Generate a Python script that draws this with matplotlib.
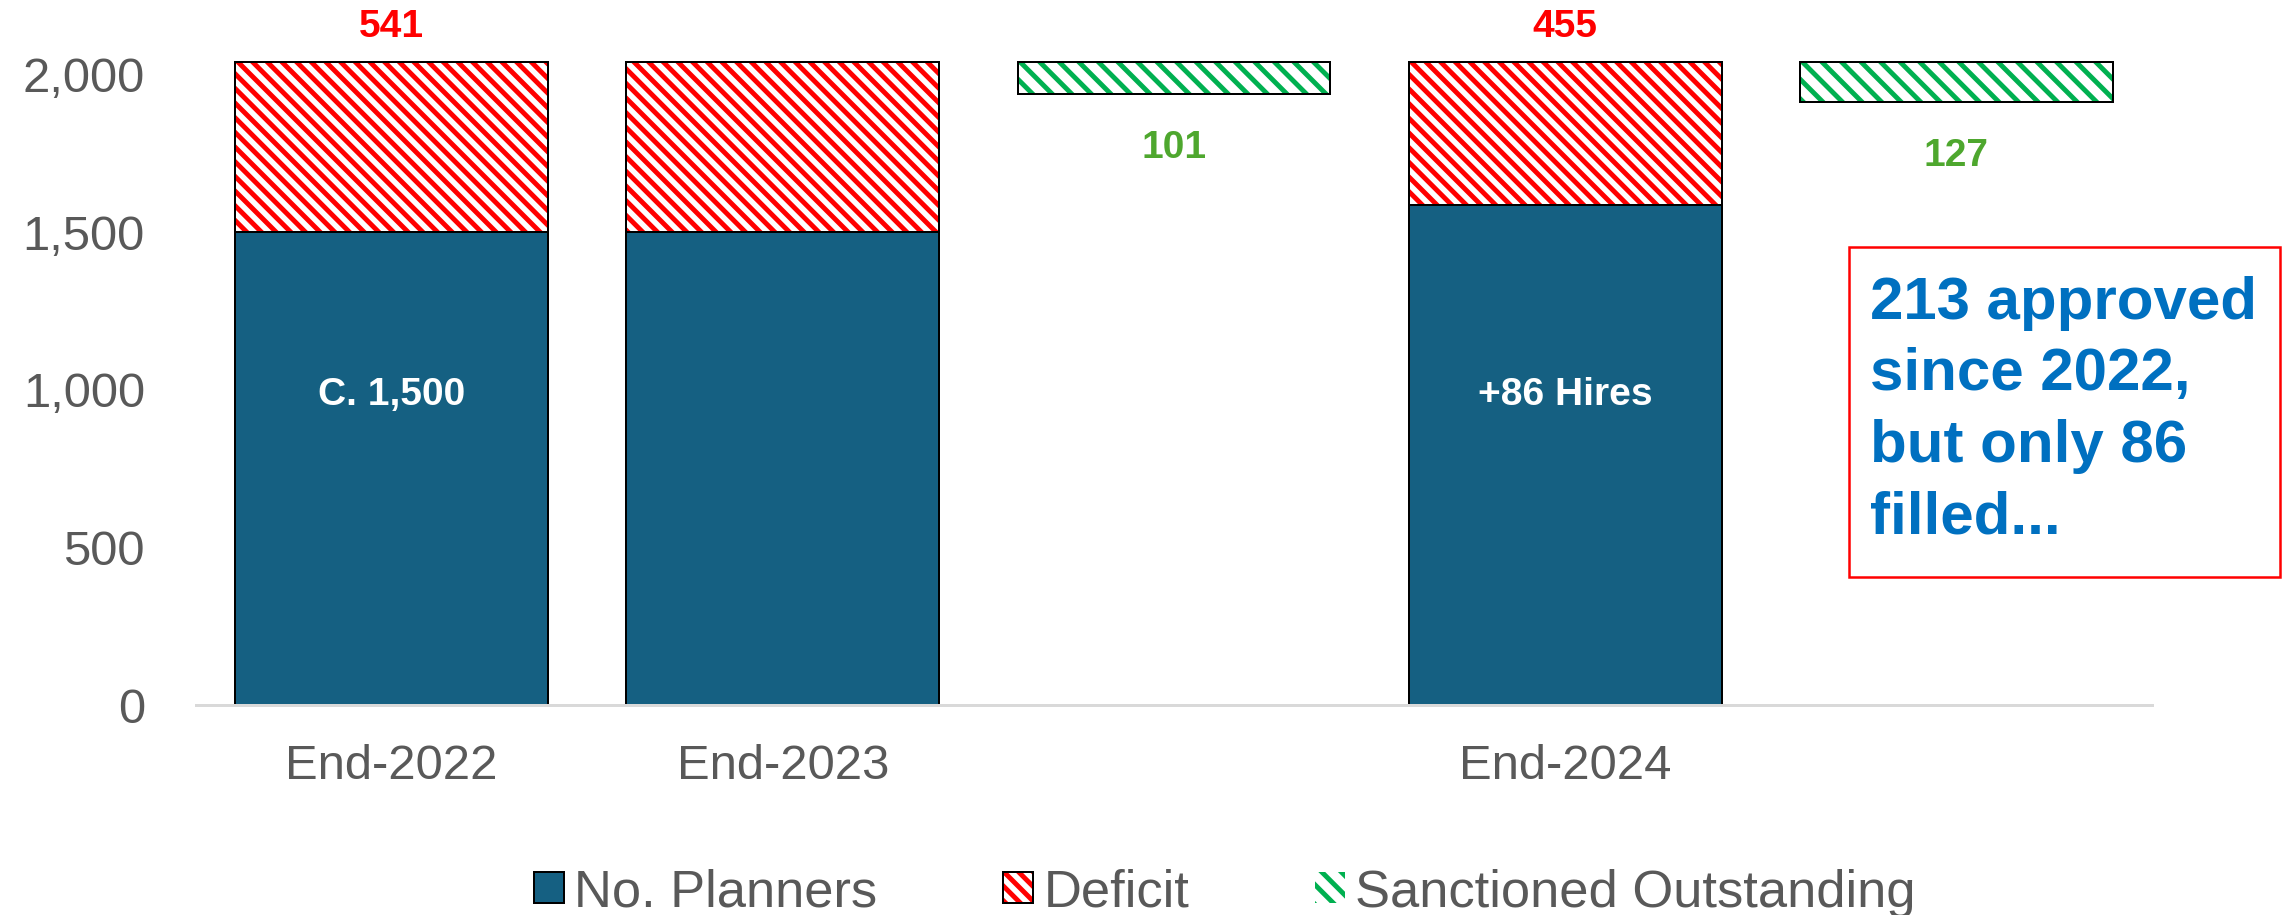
import matplotlib
matplotlib.use('Agg')
import matplotlib.pyplot as plt
from matplotlib.patches import Patch, Rectangle
from matplotlib.ticker import FuncFormatter

# data
categories = ['End-2022', 'End-2023', '', 'End-2024', '']
planners = [1500, 1500, 0, 1586, 0]
deficit = [541, 541, 0, 455, 0]
sanctioned = [0, 0, 101, 0, 127]
deficit_labels = ['541', '', '', '455', '']
planner_labels = ['C. 1,500', '', '', '+86 Hires', '']
sanction_labels = ['', '', '101', '', '127']
note = '213 approved\nsince 2022,\nbut only 86\nfilled...'

BLUE = '#156082'; RED = '#FF0000'; GREEN = '#00B050'; GTXT = '#4EA72E'
GRAY = '#595959'; NOTE = '#0070C0'
RED_HATCH = '\\' * 4
GREEN_HATCH = '\\' * 3

DPI = 176
def pt(px):
    return px * 72 / DPI

plt.rcParams.update({'font.family': 'Liberation Sans', 'hatch.linewidth': 2.0})

fig = plt.figure(figsize=(2288 / DPI, 915 / DPI + 1e-6), dpi=DPI)
ax = fig.add_axes([196 / 2288, 210 / 915, 1956 / 2288, 693.4 / 915])

x = list(range(len(categories)))
ceiling = planners[0] + deficit[0]
W = 0.8
EDGE = pt(2)

for i in x:
    if planners[i]:
        ax.bar(i, planners[i], W, color=BLUE, edgecolor='black', lw=EDGE, zorder=2)
    if deficit[i]:
        ax.bar(i, deficit[i], W, bottom=planners[i], color='white', edgecolor=RED,
               hatch=RED_HATCH, lw=0, zorder=2)
        ax.bar(i, deficit[i], W, bottom=planners[i], fill=False, edgecolor='black',
               lw=EDGE, zorder=3)
    if sanctioned[i]:
        ax.bar(i, sanctioned[i], W, bottom=ceiling - sanctioned[i], color='white',
               edgecolor=GREEN, hatch=GREEN_HATCH, lw=0, zorder=2)
        ax.bar(i, sanctioned[i], W, bottom=ceiling - sanctioned[i], fill=False,
               edgecolor='black', lw=EDGE, zorder=3)

# labels
LABEL_Y = 985
for i in x:
    if deficit_labels[i]:
        ax.annotate(deficit_labels[i], (i, planners[i] + deficit[i]), xytext=(0, pt(25)),
                    textcoords='offset points', ha='center', va='baseline',
                    color=RED, fontsize=pt(39), weight='bold', annotation_clip=False)
    if sanction_labels[i]:
        ax.annotate(sanction_labels[i], (i, ceiling - sanctioned[i]), xytext=(0, -pt(64)),
                    textcoords='offset points', ha='center', va='baseline',
                    color=GTXT, fontsize=pt(39), weight='bold')
    if planner_labels[i]:
        ax.text(i, LABEL_Y, planner_labels[i], ha='center', va='center', color='white',
                fontsize=pt(39), weight='bold', zorder=4)

ax.set_xlim(-0.5, len(categories) - 0.5)
ax.set_ylim(0, 2200)
ax.set_yticks([0, 500, 1000, 1500, 2000])
ax.yaxis.set_major_formatter(FuncFormatter(lambda v, p: f'{v:,.0f}'))
ax.set_xticks(x)
ax.set_xticklabels(categories)
ax.tick_params(axis='y', length=0, pad=pt(51), labelsize=pt(49), labelcolor=GRAY)
ax.tick_params(axis='x', length=0, pad=pt(39), labelsize=pt(49), labelcolor=GRAY)
for s in ['top', 'right', 'left']:
    ax.spines[s].set_visible(False)
ax.spines['bottom'].set_color('#D9D9D9')
ax.spines['bottom'].set_linewidth(pt(3))

# note box
fig.patches.append(Rectangle((1849 / 2288, (915 - 577) / 915), 431 / 2288, 330 / 915,
                             transform=fig.transFigure, fill=False, edgecolor=RED, lw=pt(2.5)))
fig.text(1870 / 2288, (915 - 276) / 915, note, ha='left', va='top', color=NOTE,
         fontsize=pt(60), weight='bold', linespacing=1.38)

# legend
h_pl = Patch(facecolor=BLUE, edgecolor='black', lw=EDGE)
h_def = (Patch(facecolor='white', edgecolor=RED, hatch=RED_HATCH, lw=0),
         Patch(fill=False, edgecolor='black', lw=EDGE))
h_san = Patch(facecolor='white', edgecolor=GREEN, hatch=GREEN_HATCH, lw=0)
fig.legend([h_pl, h_def, h_san], ['No. Planners', 'Deficit', 'Sanctioned Outstanding'],
           loc='center', bbox_to_anchor=(1225 / 2288, 22 / 915), ncol=3, frameon=False,
           fontsize=pt(52.5), labelcolor=GRAY, handlelength=0.57, handleheight=0.53,
           handletextpad=0.19, columnspacing=2.4, borderpad=0)

fig.savefig('out.png', dpi=DPI)
